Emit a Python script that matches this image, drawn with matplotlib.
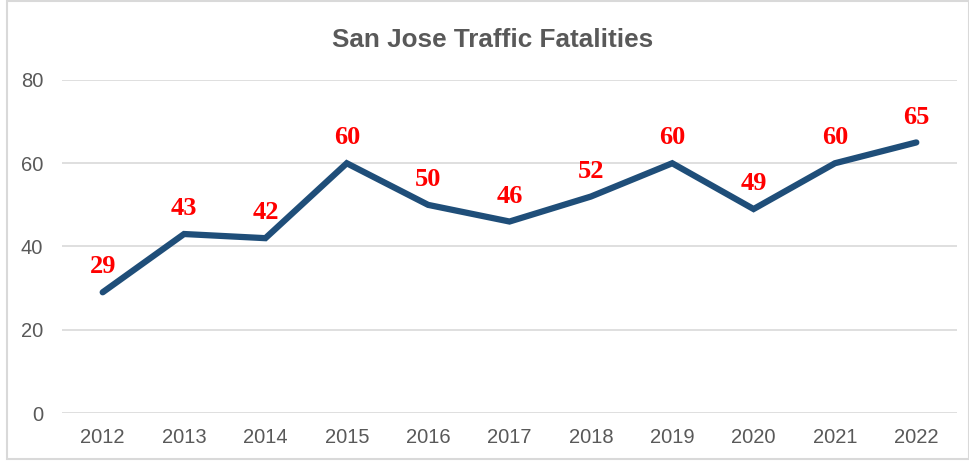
import matplotlib.pyplot as plt
from matplotlib.patches import Rectangle

years = ['2012', '2013', '2014', '2015', '2016', '2017', '2018', '2019', '2020', '2021', '2022']
fatalities = [29, 43, 42, 60, 50, 46, 52, 60, 49, 60, 65]

fig = plt.figure(figsize=(9.7, 4.61), dpi=100)
ax = fig.add_axes([62 / 970, 48 / 461, 895 / 970, 333 / 461])

x = range(len(years))
ax.plot(x, fatalities, color='#1F4E79', linewidth=4.5, solid_capstyle='round', solid_joinstyle='miter', zorder=3)

for xi, v in zip(x, fatalities):
    ax.annotate(str(v), (xi, v), xytext=(0, 10), textcoords='offset points',
                ha='center', va='bottom', color='#FF0000', fontsize=19,
                fontweight='bold', family='Liberation Serif')

ax.set_xlim(-0.5, len(years) - 0.5)
ax.set_ylim(0, 80)
ax.set_yticks([0, 20, 40, 60, 80])
ax.set_xticks(list(x))
ax.set_xticklabels(years)
ax.grid(axis='y', color='#D9D9D9', linewidth=1.2)
ax.set_axisbelow(True)
for s in ax.spines.values():
    s.set_visible(False)
ax.tick_params(length=0, labelsize=14.5, labelcolor='#595959')
ax.tick_params(axis='x', pad=11)
ax.tick_params(axis='y', pad=13.5)
for lbl in ax.get_xticklabels() + ax.get_yticklabels():
    lbl.set_family('Liberation Sans')

fig.text(493 / 970, 1 - 40 / 461, 'San Jose Traffic Fatalities', ha='center', va='center',
         fontsize=18.8, fontweight='bold', color='#595959', family='Liberation Sans')

fig.patches.append(Rectangle((7 / 970, 2 / 461), 962 / 970, 458 / 461, transform=fig.transFigure,
                             fill=False, edgecolor='#D9D9D9', linewidth=1.5))

fig.savefig('out.png', dpi=100)
